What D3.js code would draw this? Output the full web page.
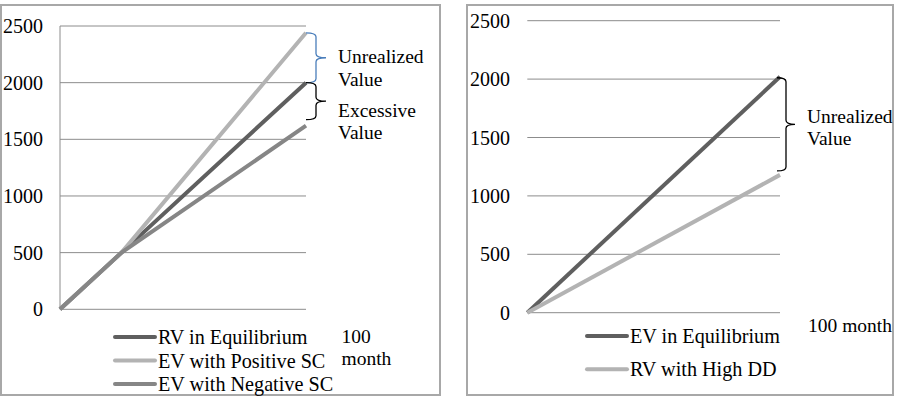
<!DOCTYPE html>
<html>
<head>
<meta charset="utf-8">
<script src="https://cdn.jsdelivr.net/npm/d3@7/dist/d3.min.js"></script>
<style>
  body { margin: 0; background: #fff; }
</style>
</head>
<body>
<div id="chart"></div>
<script>
// left panel data
const monthsLeft = [0, 25, 100];
const rvEquilibrium = [0, 500, 2000];
const evPositiveSC = [0, 500, 2440];
const evNegativeSC = [0, 500, 1620];

// right panel data
const monthsRight = [0, 100];
const evEquilibrium = [0, 2020];
const rvHighDD = [0, 1180];

const yTicks = [0, 500, 1000, 1500, 2000, 2500];

const svg = d3.select("#chart").append("svg")
  .attr("width", 899)
  .attr("height", 406)
  .attr("font-family", "'Liberation Serif', 'Times New Roman', Times, serif")
  .attr("font-size", "19.5px");

svg.append("rect").attr("width", 899).attr("height", 406).attr("fill", "#fff");

// panel borders
svg.append("rect").attr("x", 1).attr("y", 5).attr("width", 439).attr("height", 390)
  .attr("fill", "none").attr("stroke", "#a8a8a8").attr("stroke-width", 2);
svg.append("rect").attr("x", 467).attr("y", 5).attr("width", 426).attr("height", 390)
  .attr("fill", "none").attr("stroke", "#a8a8a8").attr("stroke-width", 2);

function brace(x, yTop, yBot, w) {
  const m = (yTop + yBot) / 2, h = w / 2;
  return `M${x},${yTop} Q${x + h},${yTop} ${x + h},${yTop + 4} L${x + h},${m - 4} Q${x + h},${m} ${x + w},${m}` +
    ` Q${x + h},${m} ${x + h},${m + 4} L${x + h},${yBot - 4} Q${x + h},${yBot} ${x},${yBot}`;
}

function panel(opts) {
  const g = svg.append("g");
  const x = d3.scaleLinear().domain([0, 100]).range(opts.xr);
  const y = d3.scaleLinear().domain([0, 2500]).range(opts.yr);

  g.selectAll("line.grid").data(yTicks).enter().append("line")
    .attr("x1", opts.xr[0]).attr("x2", opts.xr[1])
    .attr("y1", d => y(d)).attr("y2", d => y(d))
    .attr("stroke", "#8c8c8c").attr("stroke-width", 1);

  if (opts.axisLine) {
    g.append("line").attr("x1", opts.xr[0]).attr("x2", opts.xr[0])
      .attr("y1", y(2500)).attr("y2", y(0))
      .attr("stroke", "#8c8c8c").attr("stroke-width", 1);
  }

  g.selectAll("text.tick").data(yTicks).enter().append("text")
    .attr("x", opts.tickX).attr("y", d => y(d))
    .attr("text-anchor", "end").attr("dominant-baseline", "central")
    .attr("font-size", "20px")
    .text(d => d);

  const line = d3.line().x(d => x(d[0])).y(d => y(d[1]));
  opts.series.forEach(s => {
    g.append("path")
      .datum(opts.months.map((m, i) => [m, s.values[i]]))
      .attr("d", line)
      .attr("fill", "none").attr("stroke", s.color).attr("stroke-width", 4);
  });

  // legend
  opts.series.forEach((s, i) => {
    const ly = opts.legendY + i * opts.legendStep;
    g.append("line").attr("x1", opts.legendX).attr("x2", opts.legendX + 40)
      .attr("y1", ly).attr("y2", ly)
      .attr("stroke", s.color).attr("stroke-width", 4).attr("stroke-linecap", "round");
    g.append("text").attr("x", opts.legendX + 43).attr("y", ly)
      .attr("dominant-baseline", "central")
      .attr("font-size", "20.2px")
      .text(s.name);
  });

  return { x, y, g };
}

const dark = "#5f5f5f", light = "#b3b3b3", mid = "#868686";

const left = panel({
  xr: [60, 306], yr: [309.3, 26], tickX: 43, axisLine: true,
  months: monthsLeft,
  series: [
    { name: "RV in Equilibrium", values: rvEquilibrium, color: dark },
    { name: "EV with Positive SC", values: evPositiveSC, color: light },
    { name: "EV with Negative SC", values: evNegativeSC, color: mid }
  ],
  legendX: 115, legendY: 337, legendStep: 23.5
});

const right = panel({
  xr: [527.3, 780], yr: [312.7, 20.7], tickX: 510, axisLine: false,
  months: monthsRight,
  series: [
    { name: "EV in Equilibrium", values: evEquilibrium, color: dark },
    { name: "RV with High DD", values: rvHighDD, color: light }
  ],
  legendX: 587, legendY: 336, legendStep: 33.3
});

// left annotations
const ly = left.y;
svg.append("path").attr("d", brace(306, ly(evPositiveSC[2]), ly(rvEquilibrium[2]), 20))
  .attr("fill", "none").attr("stroke", "#4a7ebb").attr("stroke-width", 1.3);
svg.append("path").attr("d", brace(306, ly(rvEquilibrium[2]), ly(evNegativeSC[2]) - 6, 20))
  .attr("fill", "none").attr("stroke", "#000").attr("stroke-width", 1.3);

const annL = [["Unrealized", 63.3], ["Value", 85.5], ["Excessive", 116.7], ["Value", 139.3]];
svg.selectAll("text.annL").data(annL).enter().append("text")
  .attr("x", 338).attr("y", d => d[1]).text(d => d[0]);

svg.append("text").attr("x", 341.5).attr("y", 342.7).text("100");
svg.append("text").attr("x", 341.5).attr("y", 365).text("month");

// right annotations
const ry = right.y;
svg.append("path").attr("d", brace(777, ry(evEquilibrium[1]) + 1, ry(rvHighDD[1]) - 4, 18))
  .attr("fill", "none").attr("stroke", "#000").attr("stroke-width", 1.3);

const annR = [["Unrealized", 123], ["Value", 145]];
svg.selectAll("text.annR").data(annR).enter().append("text")
  .attr("x", 807).attr("y", d => d[1]).text(d => d[0]);

svg.append("text").attr("x", 808).attr("y", 331.5).text("100 month");
</script>
</body>
</html>
